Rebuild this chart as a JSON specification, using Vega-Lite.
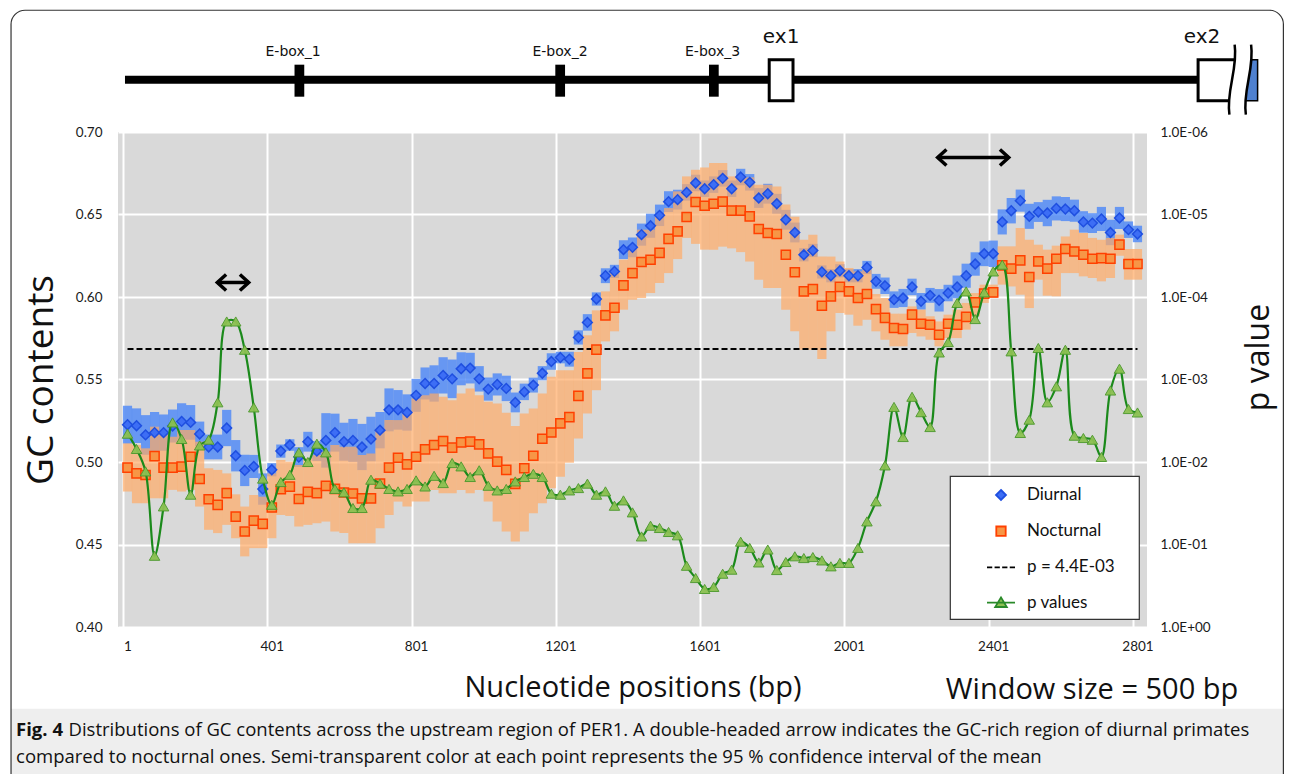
{
  "$schema": "https://vega.github.io/schema/vega-lite/v6.json",
  "width": 1029,
  "height": 495,
  "autosize": {"type": "none"},
  "padding": {"left": 118, "top": 132, "right": 145, "bottom": 147},
  "background": "white",
  "config": {
    "font": "Lato",
    "view": {"stroke": null, "fill": "#d9d9d9"},
    "axis": {"labelFont": "Lato", "titleFont": "Open Sans", "labelColor": "#1a1a1a", "titleColor": "#111111", "titleFontWeight": "normal"},
    "legend": {"strokeWidth": 1.2}
  },
  "datasets": {
    "gc": [
      {"pos":1,"d":0.5226,"dlo":0.5111,"dhi":0.5341,"n":0.4966,"nlo":0.4821,"nhi":0.5113,"p":0.00454},
      {"pos":26,"d":0.5220,"dlo":0.5115,"dhi":0.5325,"n":0.4931,"nlo":0.4750,"nhi":0.5103,"p":0.00695},
      {"pos":51,"d":0.5164,"dlo":0.5044,"dhi":0.5284,"n":0.4921,"nlo":0.4750,"nhi":0.5083,"p":0.0130},
      {"pos":76,"d":0.5178,"dlo":0.5053,"dhi":0.5303,"n":0.5036,"nlo":0.4780,"nhi":0.5214,"p":0.137},
      {"pos":101,"d":0.5178,"dlo":0.5068,"dhi":0.5288,"n":0.4966,"nlo":0.4780,"nhi":0.5183,"p":0.0345},
      {"pos":126,"d":0.5218,"dlo":0.5118,"dhi":0.5318,"n":0.4966,"nlo":0.4831,"nhi":0.5153,"p":0.00331},
      {"pos":151,"d":0.5246,"dlo":0.5136,"dhi":0.5356,"n":0.4972,"nlo":0.4821,"nhi":0.5194,"p":0.00526},
      {"pos":176,"d":0.5240,"dlo":0.5135,"dhi":0.5345,"n":0.5032,"nlo":0.4831,"nhi":0.5194,"p":0.0249},
      {"pos":201,"d":0.5170,"dlo":0.5095,"dhi":0.5245,"n":0.4897,"nlo":0.4730,"nhi":0.5123,"p":0.00630},
      {"pos":226,"d":0.5091,"dlo":0.5016,"dhi":0.5166,"n":0.4774,"nlo":0.4589,"nhi":0.4962,"p":0.00537},
      {"pos":251,"d":0.5091,"dlo":0.5016,"dhi":0.5166,"n":0.4740,"nlo":0.4569,"nhi":0.4952,"p":0.00189},
      {"pos":276,"d":0.5206,"dlo":0.5096,"dhi":0.5316,"n":0.4811,"nlo":0.4619,"nhi":0.4931,"p":0.000198},
      {"pos":301,"d":0.5038,"dlo":0.4943,"dhi":0.5133,"n":0.4669,"nlo":0.4538,"nhi":0.4804,"p":0.000198},
      {"pos":326,"d":0.4949,"dlo":0.4854,"dhi":0.5044,"n":0.4579,"nlo":0.4428,"nhi":0.4730,"p":0.000436},
      {"pos":351,"d":0.4973,"dlo":0.4903,"dhi":0.5043,"n":0.4645,"nlo":0.4478,"nhi":0.4800,"p":0.00218},
      {"pos":376,"d":0.4836,"dlo":0.4741,"dhi":0.4931,"n":0.4625,"nlo":0.4478,"nhi":0.4790,"p":0.0159},
      {"pos":401,"d":0.4953,"dlo":0.4913,"dhi":0.4993,"n":0.4724,"nlo":0.4538,"nhi":0.4931,"p":0.0330},
      {"pos":426,"d":0.5066,"dlo":0.5026,"dhi":0.5106,"n":0.4835,"nlo":0.4679,"nhi":0.5012,"p":0.0175},
      {"pos":451,"d":0.5103,"dlo":0.5068,"dhi":0.5138,"n":0.4851,"nlo":0.4673,"nhi":0.5002,"p":0.0143},
      {"pos":476,"d":0.5030,"dlo":0.4970,"dhi":0.5090,"n":0.4776,"nlo":0.4609,"nhi":0.4982,"p":0.00764},
      {"pos":501,"d":0.5123,"dlo":0.5063,"dhi":0.5183,"n":0.4819,"nlo":0.4619,"nhi":0.5022,"p":0.0100},
      {"pos":526,"d":0.5066,"dlo":0.5006,"dhi":0.5126,"n":0.4811,"nlo":0.4629,"nhi":0.5042,"p":0.00600},
      {"pos":551,"d":0.5131,"dlo":0.4966,"dhi":0.5296,"n":0.4855,"nlo":0.4639,"nhi":0.5063,"p":0.00764},
      {"pos":576,"d":0.5178,"dlo":0.5063,"dhi":0.5293,"n":0.4837,"nlo":0.4579,"nhi":0.5103,"p":0.0212},
      {"pos":601,"d":0.5123,"dlo":0.5008,"dhi":0.5238,"n":0.4815,"nlo":0.4569,"nhi":0.5093,"p":0.0233},
      {"pos":626,"d":0.5131,"dlo":0.5001,"dhi":0.5261,"n":0.4809,"nlo":0.4508,"nhi":0.5093,"p":0.0361},
      {"pos":651,"d":0.5091,"dlo":0.4951,"dhi":0.5231,"n":0.4780,"nlo":0.4508,"nhi":0.5042,"p":0.0361},
      {"pos":676,"d":0.5139,"dlo":0.5004,"dhi":0.5274,"n":0.4780,"nlo":0.4508,"nhi":0.5052,"p":0.0164},
      {"pos":701,"d":0.5193,"dlo":0.5083,"dhi":0.5303,"n":0.4869,"nlo":0.4599,"nhi":0.5194,"p":0.0183},
      {"pos":726,"d":0.5316,"dlo":0.5186,"dhi":0.5446,"n":0.4966,"nlo":0.4679,"nhi":0.5254,"p":0.0212},
      {"pos":751,"d":0.5316,"dlo":0.5196,"dhi":0.5436,"n":0.5026,"nlo":0.4760,"nhi":0.5254,"p":0.0227},
      {"pos":776,"d":0.5300,"dlo":0.5190,"dhi":0.5410,"n":0.4986,"nlo":0.4730,"nhi":0.5294,"p":0.0212},
      {"pos":801,"d":0.5404,"dlo":0.5304,"dhi":0.5504,"n":0.5032,"nlo":0.4760,"nhi":0.5385,"p":0.0167},
      {"pos":826,"d":0.5476,"dlo":0.5379,"dhi":0.5573,"n":0.5077,"nlo":0.4760,"nhi":0.5405,"p":0.0198},
      {"pos":851,"d":0.5476,"dlo":0.5366,"dhi":0.5586,"n":0.5103,"nlo":0.4831,"nhi":0.5415,"p":0.0147},
      {"pos":876,"d":0.5525,"dlo":0.5415,"dhi":0.5635,"n":0.5127,"nlo":0.4811,"nhi":0.5395,"p":0.0180},
      {"pos":901,"d":0.5504,"dlo":0.5387,"dhi":0.5621,"n":0.5087,"nlo":0.4811,"nhi":0.5375,"p":0.0103},
      {"pos":926,"d":0.5565,"dlo":0.5465,"dhi":0.5665,"n":0.5119,"nlo":0.4831,"nhi":0.5415,"p":0.0113},
      {"pos":951,"d":0.5569,"dlo":0.5476,"dhi":0.5662,"n":0.5123,"nlo":0.4811,"nhi":0.5446,"p":0.0152},
      {"pos":976,"d":0.5504,"dlo":0.5427,"dhi":0.5581,"n":0.5107,"nlo":0.4831,"nhi":0.5405,"p":0.0126},
      {"pos":1001,"d":0.5442,"dlo":0.5372,"dhi":0.5512,"n":0.5052,"nlo":0.4760,"nhi":0.5365,"p":0.0194},
      {"pos":1026,"d":0.5470,"dlo":0.5403,"dhi":0.5537,"n":0.5002,"nlo":0.4639,"nhi":0.5355,"p":0.0221},
      {"pos":1051,"d":0.5446,"dlo":0.5369,"dhi":0.5523,"n":0.4952,"nlo":0.4579,"nhi":0.5298,"p":0.0212},
      {"pos":1076,"d":0.5361,"dlo":0.5301,"dhi":0.5421,"n":0.4867,"nlo":0.4518,"nhi":0.5218,"p":0.0172},
      {"pos":1101,"d":0.5425,"dlo":0.5375,"dhi":0.5475,"n":0.4962,"nlo":0.4579,"nhi":0.5294,"p":0.0152},
      {"pos":1126,"d":0.5466,"dlo":0.5421,"dhi":0.5511,"n":0.5038,"nlo":0.4690,"nhi":0.5325,"p":0.0139},
      {"pos":1151,"d":0.5538,"dlo":0.5495,"dhi":0.5581,"n":0.5141,"nlo":0.4750,"nhi":0.5415,"p":0.0152},
      {"pos":1176,"d":0.5609,"dlo":0.5559,"dhi":0.5659,"n":0.5179,"nlo":0.4841,"nhi":0.5516,"p":0.0242},
      {"pos":1201,"d":0.5633,"dlo":0.5598,"dhi":0.5668,"n":0.5234,"nlo":0.4911,"nhi":0.5556,"p":0.0249},
      {"pos":1226,"d":0.5623,"dlo":0.5578,"dhi":0.5668,"n":0.5272,"nlo":0.4996,"nhi":0.5556,"p":0.0221},
      {"pos":1251,"d":0.5755,"dlo":0.5712,"dhi":0.5798,"n":0.5401,"nlo":0.5143,"nhi":0.5667,"p":0.0207},
      {"pos":1276,"d":0.5846,"dlo":0.5796,"dhi":0.5896,"n":0.5537,"nlo":0.5294,"nhi":0.5768,"p":0.0183},
      {"pos":1301,"d":0.5988,"dlo":0.5948,"dhi":0.6028,"n":0.5681,"nlo":0.5435,"nhi":0.5919,"p":0.0249},
      {"pos":1326,"d":0.6129,"dlo":0.6084,"dhi":0.6174,"n":0.5889,"nlo":0.5731,"nhi":0.6034,"p":0.0227},
      {"pos":1351,"d":0.6155,"dlo":0.6115,"dhi":0.6195,"n":0.5935,"nlo":0.5792,"nhi":0.6145,"p":0.0339},
      {"pos":1376,"d":0.6287,"dlo":0.6230,"dhi":0.6344,"n":0.6070,"nlo":0.5923,"nhi":0.6226,"p":0.0292},
      {"pos":1401,"d":0.6301,"dlo":0.6241,"dhi":0.6361,"n":0.6145,"nlo":0.5984,"nhi":0.6297,"p":0.0408},
      {"pos":1426,"d":0.6378,"dlo":0.6311,"dhi":0.6445,"n":0.6212,"nlo":0.5994,"nhi":0.6408,"p":0.0798},
      {"pos":1451,"d":0.6432,"dlo":0.6359,"dhi":0.6505,"n":0.6226,"nlo":0.6024,"nhi":0.6408,"p":0.0592},
      {"pos":1476,"d":0.6495,"dlo":0.6430,"dhi":0.6560,"n":0.6267,"nlo":0.6085,"nhi":0.6488,"p":0.0631},
      {"pos":1501,"d":0.6578,"dlo":0.6515,"dhi":0.6641,"n":0.6352,"nlo":0.6145,"nhi":0.6539,"p":0.0705},
      {"pos":1526,"d":0.6590,"dlo":0.6530,"dhi":0.6650,"n":0.6398,"nlo":0.6230,"nhi":0.6640,"p":0.0774},
      {"pos":1551,"d":0.6634,"dlo":0.6584,"dhi":0.6684,"n":0.6485,"nlo":0.6358,"nhi":0.6731,"p":0.181},
      {"pos":1576,"d":0.6691,"dlo":0.6641,"dhi":0.6741,"n":0.6576,"nlo":0.6322,"nhi":0.6771,"p":0.255},
      {"pos":1601,"d":0.6656,"dlo":0.6606,"dhi":0.6706,"n":0.6553,"nlo":0.6287,"nhi":0.6785,"p":0.346},
      {"pos":1626,"d":0.6681,"dlo":0.6631,"dhi":0.6731,"n":0.6565,"nlo":0.6287,"nhi":0.6812,"p":0.327},
      {"pos":1651,"d":0.6719,"dlo":0.6669,"dhi":0.6769,"n":0.6578,"nlo":0.6305,"nhi":0.6812,"p":0.226},
      {"pos":1676,"d":0.6656,"dlo":0.6606,"dhi":0.6706,"n":0.6523,"nlo":0.6295,"nhi":0.6731,"p":0.202},
      {"pos":1701,"d":0.6727,"dlo":0.6677,"dhi":0.6777,"n":0.6523,"nlo":0.6272,"nhi":0.6731,"p":0.0925},
      {"pos":1726,"d":0.6695,"dlo":0.6645,"dhi":0.6745,"n":0.6489,"nlo":0.6215,"nhi":0.6725,"p":0.110},
      {"pos":1751,"d":0.6600,"dlo":0.6540,"dhi":0.6660,"n":0.6412,"nlo":0.6105,"nhi":0.6681,"p":0.165},
      {"pos":1776,"d":0.6626,"dlo":0.6566,"dhi":0.6686,"n":0.6388,"nlo":0.6055,"nhi":0.6681,"p":0.115},
      {"pos":1801,"d":0.6565,"dlo":0.6505,"dhi":0.6625,"n":0.6382,"nlo":0.6055,"nhi":0.6670,"p":0.204},
      {"pos":1826,"d":0.6468,"dlo":0.6408,"dhi":0.6528,"n":0.6256,"nlo":0.5923,"nhi":0.6560,"p":0.163},
      {"pos":1851,"d":0.6391,"dlo":0.6331,"dhi":0.6451,"n":0.6150,"nlo":0.5792,"nhi":0.6487,"p":0.139},
      {"pos":1876,"d":0.6256,"dlo":0.6216,"dhi":0.6296,"n":0.6034,"nlo":0.5681,"nhi":0.6347,"p":0.146},
      {"pos":1901,"d":0.6282,"dlo":0.6242,"dhi":0.6322,"n":0.6048,"nlo":0.5681,"nhi":0.6377,"p":0.142},
      {"pos":1926,"d":0.6152,"dlo":0.6112,"dhi":0.6192,"n":0.5947,"nlo":0.5624,"nhi":0.6245,"p":0.156},
      {"pos":1951,"d":0.6129,"dlo":0.6089,"dhi":0.6169,"n":0.6004,"nlo":0.5792,"nhi":0.6245,"p":0.184},
      {"pos":1976,"d":0.6159,"dlo":0.6119,"dhi":0.6199,"n":0.6061,"nlo":0.5903,"nhi":0.6215,"p":0.167},
      {"pos":2001,"d":0.6129,"dlo":0.6089,"dhi":0.6169,"n":0.6034,"nlo":0.5893,"nhi":0.6176,"p":0.167},
      {"pos":2026,"d":0.6129,"dlo":0.6089,"dhi":0.6169,"n":0.5994,"nlo":0.5826,"nhi":0.6155,"p":0.110},
      {"pos":2051,"d":0.6179,"dlo":0.6139,"dhi":0.6219,"n":0.6018,"nlo":0.5862,"nhi":0.6165,"p":0.0525},
      {"pos":2076,"d":0.6095,"dlo":0.6050,"dhi":0.6140,"n":0.5927,"nlo":0.5792,"nhi":0.6018,"p":0.0300},
      {"pos":2101,"d":0.6068,"dlo":0.6018,"dhi":0.6118,"n":0.5873,"nlo":0.5741,"nhi":0.5994,"p":0.0110},
      {"pos":2126,"d":0.5984,"dlo":0.5934,"dhi":0.6034,"n":0.5812,"nlo":0.5701,"nhi":0.5899,"p":0.00215},
      {"pos":2151,"d":0.5994,"dlo":0.5939,"dhi":0.6049,"n":0.5806,"nlo":0.5701,"nhi":0.5899,"p":0.00498},
      {"pos":2176,"d":0.6061,"dlo":0.6011,"dhi":0.6111,"n":0.5893,"nlo":0.5782,"nhi":0.5943,"p":0.00162},
      {"pos":2201,"d":0.5974,"dlo":0.5924,"dhi":0.6024,"n":0.5838,"nlo":0.5761,"nhi":0.5923,"p":0.00249},
      {"pos":2226,"d":0.6010,"dlo":0.5965,"dhi":0.6055,"n":0.5832,"nlo":0.5741,"nhi":0.5883,"p":0.00377},
      {"pos":2251,"d":0.5980,"dlo":0.5912,"dhi":0.6048,"n":0.5771,"nlo":0.5701,"nhi":0.5852,"p":0.000470},
      {"pos":2276,"d":0.6024,"dlo":0.5974,"dhi":0.6074,"n":0.5838,"nlo":0.5751,"nhi":0.5893,"p":0.000352},
      {"pos":2301,"d":0.6061,"dlo":0.5992,"dhi":0.6130,"n":0.5832,"nlo":0.5751,"nhi":0.5923,"p":0.000118},
      {"pos":2326,"d":0.6129,"dlo":0.6056,"dhi":0.6202,"n":0.5880,"nlo":0.5802,"nhi":0.5964,"p":0.0000855},
      {"pos":2351,"d":0.6200,"dlo":0.6129,"dhi":0.6271,"n":0.5967,"nlo":0.5883,"nhi":0.6024,"p":0.000185},
      {"pos":2376,"d":0.6262,"dlo":0.6187,"dhi":0.6337,"n":0.6020,"nlo":0.5964,"nhi":0.6075,"p":0.0000879},
      {"pos":2401,"d":0.6262,"dlo":0.6182,"dhi":0.6342,"n":0.6028,"nlo":0.5994,"nhi":0.6075,"p":0.0000490},
      {"pos":2426,"d":0.6455,"dlo":0.6379,"dhi":0.6531,"n":0.6192,"nlo":0.6075,"nhi":0.6307,"p":0.0000406},
      {"pos":2451,"d":0.6523,"dlo":0.6446,"dhi":0.6600,"n":0.6172,"nlo":0.6064,"nhi":0.6307,"p":0.000456},
      {"pos":2476,"d":0.6584,"dlo":0.6517,"dhi":0.6651,"n":0.6222,"nlo":0.6014,"nhi":0.6418,"p":0.00445},
      {"pos":2501,"d":0.6489,"dlo":0.6413,"dhi":0.6565,"n":0.6121,"nlo":0.5933,"nhi":0.6347,"p":0.00307},
      {"pos":2526,"d":0.6515,"dlo":0.6455,"dhi":0.6575,"n":0.6216,"nlo":0.6105,"nhi":0.6317,"p":0.000415},
      {"pos":2551,"d":0.6509,"dlo":0.6429,"dhi":0.6589,"n":0.6172,"nlo":0.6008,"nhi":0.6287,"p":0.00189},
      {"pos":2576,"d":0.6537,"dlo":0.6464,"dhi":0.6610,"n":0.6232,"nlo":0.6004,"nhi":0.6311,"p":0.00121},
      {"pos":2601,"d":0.6533,"dlo":0.6460,"dhi":0.6606,"n":0.6291,"nlo":0.6145,"nhi":0.6367,"p":0.000436},
      {"pos":2626,"d":0.6523,"dlo":0.6456,"dhi":0.6590,"n":0.6276,"nlo":0.6145,"nhi":0.6408,"p":0.00480},
      {"pos":2651,"d":0.6455,"dlo":0.6390,"dhi":0.6520,"n":0.6256,"nlo":0.6125,"nhi":0.6388,"p":0.00512},
      {"pos":2676,"d":0.6448,"dlo":0.6388,"dhi":0.6508,"n":0.6232,"nlo":0.6115,"nhi":0.6358,"p":0.00537},
      {"pos":2701,"d":0.6473,"dlo":0.6400,"dhi":0.6546,"n":0.6236,"nlo":0.6095,"nhi":0.6347,"p":0.00869},
      {"pos":2726,"d":0.6391,"dlo":0.6314,"dhi":0.6468,"n":0.6232,"nlo":0.6115,"nhi":0.6358,"p":0.00136},
      {"pos":2751,"d":0.6479,"dlo":0.6412,"dhi":0.6546,"n":0.6317,"nlo":0.6250,"nhi":0.6378,"p":0.000740},
      {"pos":2776,"d":0.6408,"dlo":0.6358,"dhi":0.6458,"n":0.6200,"nlo":0.6105,"nhi":0.6291,"p":0.00228},
      {"pos":2801,"d":0.6382,"dlo":0.6332,"dhi":0.6432,"n":0.6200,"nlo":0.6105,"nhi":0.6291,"p":0.00251}
    ],
    "gene": [
      {"feature":"upstream","type":"line","start":-6,"end":2974,"label_at":1484},
      {"feature":"E-box_1","type":"ebox","start":464,"end":491,"label_at":460},
      {"feature":"E-box_2","type":"ebox","start":1187,"end":1214,"label_at":1200},
      {"feature":"E-box_3","type":"ebox","start":1613,"end":1640,"label_at":1623},
      {"feature":"ex1","type":"exon","start":1780,"end":1846,"label_at":1813},
      {"feature":"ex2","type":"exon","start":2969,"end":3074,"label_at":2980},
      {"feature":"ex2 coding","type":"cds","start":3096,"end":3134,"label_at":3115},
      {"feature":"break","type":"break","start":3082,"end":3082,"label_at":3082}
    ],
    "arrows": [
      {"start":250,"end":337,"gc":0.6088},
      {"start":2247,"end":2444,"gc":0.6845}
    ]
  },
  "data": {"name": "gc"},
  "layer": [
    {
      "layer": [
        {
          "data": {"values": [{"frame": "caption"}]},
          "mark": {"type": "rect", "fill": "#eeeeee", "strokeWidth": 0, "clip": false},
          "encoding": {
            "x": {"datum": -321.9, "type": "quantitative"},
            "x2": {"datum": 3205.5},
            "y": {"datum": 0.3505, "type": "quantitative"},
            "y2": {"datum": 0.29}
          }
        },
        {
          "mark": {"type": "bar", "width": 9.2, "color": "#4a86f7", "opacity": 0.8},
          "encoding": {
            "x": {"field": "pos", "type": "quantitative", "scale": {"domain": [-11.5, 2813.5], "nice": false, "zero": false},
              "axis": {"values": [1, 401, 801, 1201, 1601, 2001, 2401, 2801], "format": "d", "title": "Nucleotide positions (bp)", "grid": true, "gridColor": "white", "gridWidth": 2, "tickOffset": -4.55, "labelOffset": 4.55, "ticks": false, "domain": false, "labelFlush": false, "labelOverlap": false, "labelPadding": 12, "labelFontSize": 13.5, "titleFontSize": 29, "titlePadding": 21}},
            "y": {"field": "dlo", "type": "quantitative", "scale": {"domain": [0.4, 0.7], "nice": false, "zero": false},
              "axis": {"values": [0.4, 0.45, 0.5, 0.55, 0.6, 0.65, 0.7], "format": ".2f", "title": "GC contents", "grid": true, "gridColor": "white", "gridWidth": 2, "ticks": false, "domain": false, "labelPadding": 16, "labelFontSize": 13.5, "titleFontSize": 37, "titlePadding": 15}},
            "y2": {"field": "dhi"}
          }
        },
        {
          "mark": {"type": "bar", "width": 9.2, "color": "#ffab66", "opacity": 0.7},
          "encoding": {
            "x": {"field": "pos", "type": "quantitative"},
            "y": {"field": "nlo", "type": "quantitative"},
            "y2": {"field": "nhi"}
          }
        },
        {
          "data": {"values": [{"threshold": "p = 4.4E-03"}]},
          "mark": {"type": "rule", "strokeDash": [6, 3], "strokeWidth": 2, "color": "black"},
          "encoding": {
            "x": {"datum": 1, "type": "quantitative"},
            "x2": {"datum": 2801},
            "y": {"datum": 0.5685, "type": "quantitative"}
          }
        },
        {
          "mark": {"type": "point", "filled": true, "size": 380, "strokeWidth": 1.5, "opacity": 1},
          "encoding": {
            "x": {"field": "pos", "type": "quantitative"},
            "y": {"field": "n", "type": "quantitative"},
            "shape": {"datum": "Nocturnal", "scale": {"domain": ["Diurnal", "Nocturnal", "p = 4.4E-03", "p values"], "range": ["M0,-0.5L0.5,0L0,0.5L-0.5,0Z", "M-0.47,-0.47L0.47,-0.47L0.47,0.47L-0.47,0.47Z", "M-1.4,0L-0.875,0M-0.642,0L-0.117,0M0.117,0L0.642,0M0.875,0L1.4,0", "M-1.4,0L1.4,0M0,-0.52L0.58,0.44L-0.58,0.44Z"]},
              "legend": {"orient": "none", "legendX": 832, "legendY": 344, "title": ".", "titleOrient": "right", "titleColor": "transparent", "titleFontSize": 10, "titlePadding": 13, "padding": 8, "symbolSize": 400, "symbolStrokeWidth": 1.8, "symbolOffset": 32, "labelOffset": 15, "rowPadding": 16.2, "labelFontSize": 17, "labelFont": "Lato", "labelColor": "#111111", "fillColor": "white", "strokeColor": "#333333"}},
            "fill": {"datum": "Nocturnal", "scale": {"domain": ["Diurnal", "Nocturnal", "p = 4.4E-03", "p values"], "range": ["#3d6ef5", "#f79646", "transparent", "#8cc152"]},
              "legend": {"orient": "none", "legendX": 832, "legendY": 344, "title": ".", "titleOrient": "right", "titleColor": "transparent", "titleFontSize": 10, "titlePadding": 13, "padding": 8, "symbolSize": 400, "symbolStrokeWidth": 1.8, "symbolOffset": 32, "labelOffset": 15, "rowPadding": 16.2, "labelFontSize": 17, "labelFont": "Lato", "labelColor": "#111111", "fillColor": "white", "strokeColor": "#333333"}},
            "stroke": {"datum": "Nocturnal", "scale": {"domain": ["Diurnal", "Nocturnal", "p = 4.4E-03", "p values"], "range": ["#1f4fe0", "#ff4000", "#000000", "#2a8a2a"]},
              "legend": {"orient": "none", "legendX": 832, "legendY": 344, "title": ".", "titleOrient": "right", "titleColor": "transparent", "titleFontSize": 10, "titlePadding": 13, "padding": 8, "symbolSize": 400, "symbolStrokeWidth": 1.8, "symbolOffset": 32, "labelOffset": 15, "rowPadding": 16.2, "labelFontSize": 17, "labelFont": "Lato", "labelColor": "#111111", "fillColor": "white", "strokeColor": "#333333"}}
          }
        },
        {
          "mark": {"type": "point", "filled": true, "size": 380, "strokeWidth": 1.5, "opacity": 1},
          "encoding": {
            "x": {"field": "pos", "type": "quantitative"},
            "y": {"field": "d", "type": "quantitative"},
            "shape": {"datum": "Diurnal"},
            "fill": {"datum": "Diurnal"},
            "stroke": {"datum": "Diurnal"}
          }
        },
        {
          "data": {"name": "gene"},
          "transform": [{"filter": "datum.type == 'line'"}],
          "mark": {"type": "rule", "strokeWidth": 8, "color": "black", "clip": false},
          "encoding": {
            "x": {"field": "start", "type": "quantitative"},
            "x2": {"field": "end"},
            "y": {"datum": 0.7317, "type": "quantitative"}
          }
        },
        {
          "data": {"name": "gene"},
          "transform": [{"filter": "datum.type == 'ebox'"}],
          "mark": {"type": "rect", "color": "black", "clip": false},
          "encoding": {
            "x": {"field": "start", "type": "quantitative"},
            "x2": {"field": "end"},
            "y": {"datum": 0.7214, "type": "quantitative"},
            "y2": {"datum": 0.7408}
          }
        },
        {
          "data": {"name": "gene"},
          "transform": [{"filter": "datum.type == 'cds'"}],
          "mark": {"type": "rect", "fill": "#4f81d0", "stroke": "black", "strokeWidth": 1.5, "clip": false},
          "encoding": {
            "x": {"field": "start", "type": "quantitative"},
            "x2": {"field": "end"},
            "y": {"datum": 0.7190, "type": "quantitative"},
            "y2": {"datum": 0.7438}
          }
        },
        {
          "data": {"name": "gene"},
          "transform": [{"filter": "datum.type == 'exon'"}],
          "mark": {"type": "rect", "fill": "white", "stroke": "black", "strokeWidth": 3, "clip": false},
          "encoding": {
            "x": {"field": "start", "type": "quantitative"},
            "x2": {"field": "end"},
            "y": {"datum": 0.7190, "type": "quantitative"},
            "y2": {"datum": 0.7438}
          }
        },
        {
          "data": {"name": "gene"},
          "transform": [{"filter": "datum.type == 'break'"}],
          "mark": {"type": "point", "shape": "M-0.12,-1C-0.02,-0.3,-0.37,0.3,-0.27,1L0.2,1C0.1,0.3,0.45,-0.3,0.35,-1Z", "size": 4900, "filled": true, "color": "white", "strokeWidth": 0, "opacity": 1, "clip": false},
          "encoding": {
            "x": {"field": "start", "type": "quantitative"},
            "y": {"datum": 0.7317, "type": "quantitative"}
          }
        },
        {
          "data": {"name": "gene"},
          "transform": [{"filter": "datum.type == 'break'"}],
          "mark": {"type": "point", "shape": "M-0.12,-1C-0.02,-0.3,-0.37,0.3,-0.27,1M0.35,-1C0.45,-0.3,0.1,0.3,0.2,1", "size": 4900, "filled": false, "color": "black", "strokeWidth": 2.5, "opacity": 1, "clip": false},
          "encoding": {
            "x": {"field": "start", "type": "quantitative"},
            "y": {"datum": 0.7317, "type": "quantitative"}
          }
        },
        {
          "data": {"name": "gene"},
          "transform": [{"filter": "datum.type == 'ebox'"}],
          "mark": {"type": "text", "font": "DejaVu Sans", "fontSize": 14, "align": "center", "baseline": "alphabetic", "color": "#111111", "clip": false},
          "encoding": {
            "x": {"field": "label_at", "type": "quantitative"},
            "y": {"datum": 0.7462, "type": "quantitative"},
            "text": {"field": "feature"}
          }
        },
        {
          "data": {"name": "gene"},
          "transform": [{"filter": "datum.type == 'exon'"}],
          "mark": {"type": "text", "font": "DejaVu Sans", "fontSize": 20, "align": "center", "baseline": "alphabetic", "color": "#111111", "clip": false},
          "encoding": {
            "x": {"field": "label_at", "type": "quantitative"},
            "y": {"datum": 0.7541, "type": "quantitative"},
            "text": {"field": "feature"}
          }
        },
        {
          "data": {"name": "arrows"},
          "mark": {"type": "rule", "strokeWidth": 3.5, "color": "black"},
          "encoding": {
            "x": {"field": "start", "type": "quantitative"},
            "x2": {"field": "end"},
            "y": {"field": "gc", "type": "quantitative"}
          }
        },
        {
          "data": {"name": "arrows"},
          "mark": {"type": "point", "shape": "M1.1,-1L0,0L1.1,1", "size": 256, "filled": false, "color": "black", "strokeWidth": 3.5, "strokeJoin": "miter", "opacity": 1},
          "encoding": {
            "x": {"field": "start", "type": "quantitative"},
            "y": {"field": "gc", "type": "quantitative"}
          }
        },
        {
          "data": {"name": "arrows"},
          "mark": {"type": "point", "shape": "M-1.1,-1L0,0L-1.1,1", "size": 256, "filled": false, "color": "black", "strokeWidth": 3.5, "strokeJoin": "miter", "opacity": 1},
          "encoding": {
            "x": {"field": "end", "type": "quantitative"},
            "y": {"field": "gc", "type": "quantitative"}
          }
        },
        {
          "data": {"values": [{"label": "Window size = 500 bp"}]},
          "mark": {"type": "text", "font": "Open Sans", "fontSize": 29, "align": "center", "baseline": "alphabetic", "color": "#111111", "clip": false},
          "encoding": {
            "x": {"datum": 2675, "type": "quantitative"},
            "y": {"datum": 0.3565, "type": "quantitative"},
            "text": {"field": "label"}
          }
        },
        {
          "data": {"values": [{"label": "Fig. 4"}]},
          "mark": {"type": "text", "font": "Open Sans", "fontSize": 18.5, "fontWeight": "bold", "align": "left", "baseline": "alphabetic", "color": "#111111", "clip": false},
          "encoding": {
            "x": {"datum": -308, "type": "quantitative"},
            "y": {"datum": 0.3341, "type": "quantitative"},
            "text": {"field": "label"}
          }
        },
        {
          "data": {"values": [{"label": "Distributions of GC contents across the upstream region of PER1. A double-headed arrow indicates the GC-rich region of diurnal primates"}]},
          "mark": {"type": "text", "font": "Open Sans", "fontSize": 18.5, "align": "left", "baseline": "alphabetic", "color": "#111111", "clip": false},
          "encoding": {
            "x": {"datum": -162.6, "type": "quantitative"},
            "y": {"datum": 0.3341, "type": "quantitative"},
            "text": {"field": "label"}
          }
        },
        {
          "data": {"values": [{"label": "compared to nocturnal ones. Semi-transparent color at each point represents the 95 % confidence interval of the mean"}]},
          "mark": {"type": "text", "font": "Open Sans", "fontSize": 18.5, "align": "left", "baseline": "alphabetic", "color": "#111111", "clip": false},
          "encoding": {
            "x": {"datum": -308, "type": "quantitative"},
            "y": {"datum": 0.3178, "type": "quantitative"},
            "text": {"field": "label"}
          }
        },
        {
          "data": {"values": [{"frame": "figure"}]},
          "mark": {"type": "rect", "fill": "transparent", "stroke": "#333333", "strokeWidth": 1.2, "cornerRadius": 14, "clip": false},
          "encoding": {
            "x": {"datum": -321.9, "type": "quantitative"},
            "x2": {"datum": 3205.5},
            "y": {"datum": 0.7738, "type": "quantitative"},
            "y2": {"datum": 0.29}
          }
        }
      ]
    },
    {
      "layer": [
        {
          "mark": {"type": "line", "interpolate": "catmull-rom", "color": "#1b8a1b", "strokeWidth": 2.2},
          "encoding": {
            "x": {"field": "pos", "type": "quantitative"},
            "y": {"field": "p", "type": "quantitative", "scale": {"type": "log", "domain": [0.000001, 1], "reverse": true},
              "axis": {"orient": "right", "values": [1, 0.1, 0.01, 0.001, 0.0001, 0.00001, 0.000001], "labelExpr": "datum.value >= 0.5 ? '1.0E+00' : '1.0E-0' + round(-log(datum.value) / LN10)", "grid": false, "ticks": false, "domain": false, "labelOverlap": false, "labelPadding": 13, "labelFontSize": 13.5, "title": "p value", "titleFontSize": 32, "titleAngle": 270, "titleBaseline": "top", "titlePadding": 33, "titleY": 225}}
          }
        },
        {
          "mark": {"type": "point", "shape": "triangle-up", "filled": true, "size": 110, "fill": "#8cc152", "stroke": "#4e9a2e", "strokeWidth": 1, "opacity": 0.95},
          "encoding": {
            "x": {"field": "pos", "type": "quantitative"},
            "y": {"field": "p", "type": "quantitative"}
          }
        }
      ]
    }
  ],
  "resolve": {"scale": {"y": "independent"}}
}
